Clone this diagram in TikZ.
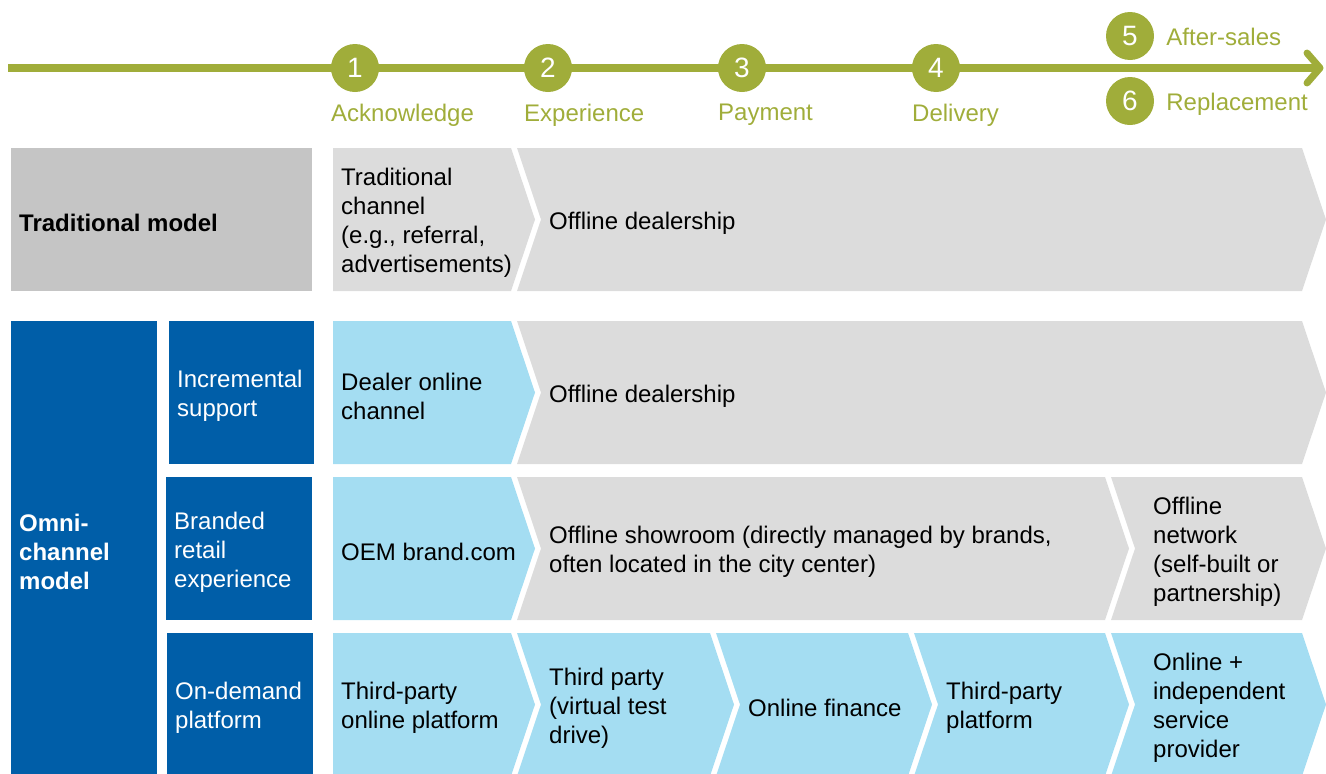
\documentclass[tikz,border=0pt]{standalone}
\usepackage{fontspec}
\setmainfont{Liberation Sans}
\usetikzlibrary{positioning}

\definecolor{stepgreen}{RGB}{160,173,58}
\definecolor{omniblue}{RGB}{0,94,168}
\definecolor{onlineblue}{RGB}{164,221,242}
\definecolor{offlinegray}{RGB}{220,220,220}
\definecolor{tradgray}{RGB}{197,197,197}

\tikzset{
  txt/.style={anchor=west, align=left, inner sep=0pt, yshift=-3pt, font=\fontsize{24}{29}\selectfont},
  steplabel/.style={txt, text=stepgreen},
  boxlabel/.style={txt, text=white},
  stepdot/.style={circle, fill=stepgreen, minimum size=48pt, inner sep=0pt,
    text=white, font=\fontsize{28}{30}\selectfont},
}

% chevrons: fill, left x, right x, top y, bottom y
\newcommand{\firstchev}[5]{\fill[#1] (#2,#4) -- (#3,#4) -- ({#3+24},{(#4+#5)/2}) -- (#3,#5) -- (#2,#5) -- cycle;}
\newcommand{\nextchev}[5]{\fill[#1] (#2,#4) -- (#3,#4) -- ({#3+24},{(#4+#5)/2}) -- (#3,#5) -- (#2,#5) -- ({#2+24},{(#4+#5)/2}) -- cycle;}

\begin{document}
\begin{tikzpicture}[x=1pt,y=-1pt]
    \useasboundingbox (0,0) rectangle (1326,774);

    % Timeline
    \coordinate (start) at (8,68);
    \coordinate (end) at (1320,68);
    \draw[stepgreen, line width=8pt] (start) -- (end);
    \draw[stepgreen, line width=7pt, line cap=round, line join=round] (1307,53) -- (end) -- (1307,83);

    % Steps
    \foreach \n/\x/\name in {1/355/Acknowledge, 2/548/Experience, 3/742/Payment, 4/936/Delivery}{
        \node[stepdot] (s\n) at (\x,68) {\n};
        \node[steplabel] (l\n) at (\x-24,112) {\name};
    }
    \node[stepdot] (s5) at (1130,36) {5};
    \node[stepdot] (s6) at (1130,101) {6};
    \node[steplabel, right=12pt of s5, yshift=2pt] (l5) {After-sales};
    \node[steplabel, right=12pt of s6] (l6) {Replacement};

    % Left boxes
    \fill[tradgray] (11,148) rectangle (312,291);
    \fill[omniblue] (11,321) rectangle (157,774);
    \fill[omniblue] (169,321) rectangle (314,464);
    \fill[omniblue] (166,477) rectangle (312,620);
    \fill[omniblue] (167,633) rectangle (313,774);

    \node[txt] (trad) at (19,220) {\textbf{Traditional model}};
    \node[boxlabel] (omni) at (19,549) {\textbf{Omni-}\\\textbf{channel}\\\textbf{model}};
    \node[boxlabel] (inc) at (177,393) {Incremental\\support};
    \node[boxlabel] (brand) at (174,549) {Branded\\retail\\experience};
    \node[boxlabel] (dem) at (175,705) {On-demand\\platform};

    % Row 1: traditional model
    \firstchev{offlinegray}{333}{511}{148}{291}
    \nextchev{offlinegray}{517}{1302}{148}{291}
    \node[txt] (trad1) at (341,220) {Traditional\\channel\\(e.g., referral,\\advertisements)};
    \node[txt] (trad2) at (549,220) {Offline dealership};

    % Row 2: incremental support
    \firstchev{onlineblue}{333}{511}{321}{464}
    \nextchev{offlinegray}{517}{1302}{321}{464}
    \node[txt] (inc1) at (341,393) {Dealer online\\channel};
    \node[txt] (inc2) at (549,393) {Offline dealership};

    % Row 3: branded retail experience
    \firstchev{onlineblue}{333}{511}{477}{620}
    \nextchev{offlinegray}{517}{1105}{477}{620}
    \nextchev{offlinegray}{1111}{1302}{477}{620}
    \node[txt] (brand1) at (341,549) {OEM brand.com};
    \node[txt] (brand2) at (549,549) {Offline showroom (directly managed by brands,\\often located in the city center)};
    \node[txt] (brand3) at (1153,549) {Offline\\network\\(self-built or\\partnership)};

    % Row 4: on-demand platform
    \firstchev{onlineblue}{333}{511}{633}{776}
    \foreach \a/\b in {517/710, 716/908, 914/1105, 1111/1302}{
        \nextchev{onlineblue}{\a}{\b}{633}{776}
    }
    \node[txt] (dem1) at (341,705) {Third-party\\online platform};
    \node[txt] (dem2) at (549,705) {Third party\\(virtual test\\drive)};
    \node[txt] (dem3) at (748,705) {Online finance};
    \node[txt] (dem4) at (946,705) {Third-party\\platform};
    \node[txt] (dem5) at (1153,705) {Online +\\independent\\service\\provider};

\end{tikzpicture}
\end{document}
